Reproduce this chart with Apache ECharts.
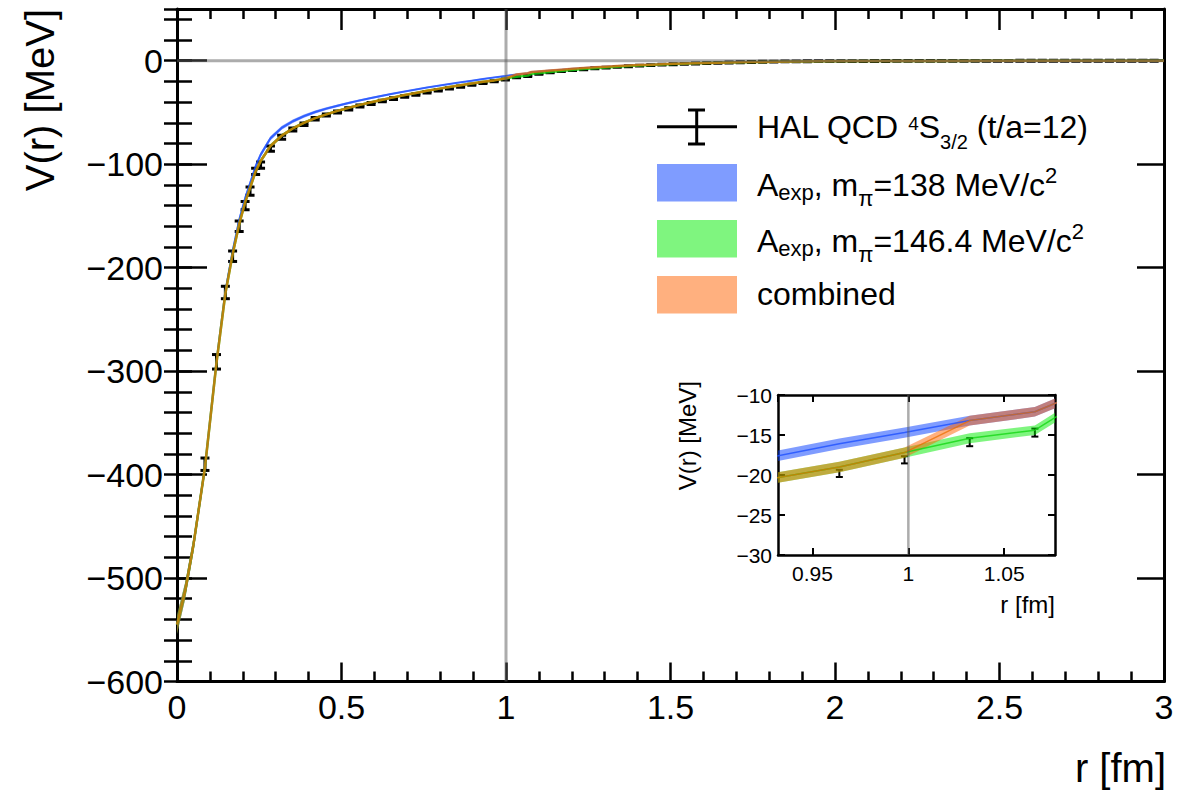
<!DOCTYPE html>
<html>
<head>
<meta charset="utf-8">
<script src="https://cdn.jsdelivr.net/npm/echarts@6/dist/echarts.min.js"></script>
<style>
  html, body { margin: 0; padding: 0; background: #ffffff; }
  #chart { width: 1189px; height: 791px; }
</style>
</head>
<body>
<div id="chart"></div>
<script>
// HAL QCD lattice points: distance r [fm], potential V [MeV], statistical error [MeV]
const dataR = [0.085, 0.120, 0.147, 0.169, 0.189, 0.207, 0.222, 0.239, 0.254, 0.284,
  0.318, 0.352, 0.386, 0.420, 0.454, 0.488, 0.522, 0.556, 0.590, 0.624,
  0.658, 0.692, 0.726, 0.760, 0.794, 0.828, 0.862, 0.896, 0.930, 0.964,
  0.998, 1.032, 1.066, 1.100, 1.134, 1.168, 1.202, 1.236, 1.270, 1.304,
  1.338, 1.372, 1.406, 1.440, 1.474, 1.508, 1.542, 1.576, 1.610, 1.644,
  1.678, 1.712, 1.746, 1.780, 1.814, 1.848, 1.882, 1.916, 1.950, 1.984,
  2.018, 2.052, 2.086, 2.120, 2.154, 2.188, 2.222, 2.256, 2.290, 2.324,
  2.358, 2.392, 2.426, 2.460, 2.494, 2.528, 2.562, 2.596, 2.630, 2.664,
  2.698, 2.732, 2.766, 2.800, 2.834, 2.868, 2.902, 2.936, 2.970];
const dataV = [-390, -291, -224, -189, -160, -140, -126, -107, -101, -85,
  -74, -66.5, -61.5, -56, -52.5, -49.5, -46.5, -43.8, -41.3, -38.9,
  -36.7, -34.6, -32.6, -30.5, -28.6, -26.8, -25.0, -23.2, -21.5, -19.8,
  -18.1, -15.9, -14.7, -12.6, -11.2, -10.1, -9.1, -8.2, -7.3, -6.6,
  -5.9, -5.3, -4.7, -4.2, -3.8, -3.4, -3.0, -2.7, -2.3, -2.0,
  -1.7, -1.5, -1.2, -1.0, -0.8, -0.7, -0.6, -0.5, -0.45, -0.4,
  -0.35, -0.3, -0.3, -0.25, -0.25, -0.2, -0.2, -0.2, -0.15, -0.15,
  -0.15, -0.1, -0.1, -0.1, -0.1, -0.1, -0.05, -0.05, -0.05, -0.05,
  -0.05, -0.05, 0, 0, 0, 0, 0, 0, 0];
const dataErr = [6, 7, 6, 5, 5, 4, 4, 3, 3, 2.5,
  2, 1.5, 1.2, 1.2, 1, 1, 1, 0.9, 0.9, 0.8,
  0.8, 0.7, 0.7, 0.7, 0.6, 0.6, 0.6, 0.5, 0.5, 0.45,
  0.45, 0.5, 0.5, 0.4, 0.4, 0.4, 0.4, 0.4, 0.4, 0.4,
  0.4, 0.4, 0.4, 0.4, 0.4, 0.4, 0.4, 0.4, 0.4, 0.4,
  0.4, 0.4, 0.4, 0.4, 0.4, 0.4, 0.4, 0.4, 0.4, 0.4,
  0.4, 0.4, 0.4, 0.4, 0.4, 0.4, 0.4, 0.4, 0.4, 0.4,
  0.4, 0.4, 0.4, 0.4, 0.4, 0.4, 0.4, 0.4, 0.4, 0.4,
  0.4, 0.4, 0.4, 0.4, 0.4, 0.4, 0.4, 0.4, 0.4];

// Fitted potentials: sample radii, band centres and common half-width [MeV]
const bandR = [0.000, 0.025, 0.050, 0.085, 0.120, 0.147, 0.169, 0.189, 0.207, 0.239,
  0.254, 0.284, 0.318, 0.352, 0.386, 0.420, 0.454, 0.488, 0.522, 0.556,
  0.590, 0.624, 0.658, 0.692, 0.726, 0.760, 0.794, 0.828, 0.862, 0.896,
  0.930, 0.964, 0.998, 1.032, 1.066, 1.078, 1.100, 1.134, 1.168, 1.202,
  1.236, 1.270, 1.304, 1.338, 1.372, 1.406, 1.440, 1.474, 1.508, 1.542,
  1.576, 1.610, 1.678, 1.746, 1.814, 1.882, 1.950, 2.100, 2.300, 2.500,
  2.700, 3.000];
// A_exp with m_pi = 138 MeV/c^2
const blueMid = [-545, -512, -468, -393, -291, -223, -184, -154, -133, -102,
  -91, -75, -65, -58.5, -53.5, -49.5, -46.3, -43.5, -40.8, -38.3,
  -36.0, -33.8, -31.7, -29.7, -27.8, -25.9, -24.2, -22.5, -20.9, -19.3,
  -17.7, -16.1, -14.7, -13.2, -12.1, -10.9, -10.3, -9.4, -8.6, -7.8,
  -7.1, -6.4, -5.8, -5.2, -4.7, -4.2, -3.8, -3.4, -3.0, -2.7,
  -2.4, -2.1, -1.7, -1.3, -1.0, -0.8, -0.6, -0.35, -0.15, -0.07,
  -0.03, -0.01];
// A_exp with m_pi = 146.4 MeV/c^2
const greenMid = [-545, -512, -468, -393, -292, -225, -187, -158, -137, -107,
  -97, -82.5, -72.5, -65.5, -60, -55.5, -51.8, -48.5, -45.5, -42.7,
  -40.1, -37.7, -35.4, -33.2, -31.1, -29.1, -27.2, -25.4, -23.7, -22.0,
  -20.4, -19.0, -17.2, -15.4, -14.4, -12.6, -12.0, -11.0, -10.0, -9.0,
  -8.1, -7.3, -6.5, -5.8, -5.2, -4.6, -4.1, -3.6, -3.2, -2.8,
  -2.5, -2.2, -1.7, -1.3, -1.0, -0.8, -0.6, -0.35, -0.15, -0.07,
  -0.03, -0.01];
// combined
const orangeMid = [-545, -512, -468, -393, -292, -225, -187, -158, -137, -107,
  -97, -82.5, -72.5, -65.5, -60, -55.5, -51.8, -48.5, -45.5, -42.7,
  -40.1, -37.7, -35.4, -33.2, -31.1, -29.1, -27.2, -25.4, -23.7, -22.0,
  -20.4, -19.0, -17.2, -13.2, -12.1, -10.9, -10.3, -9.4, -8.6, -7.8,
  -7.1, -6.4, -5.8, -5.2, -4.7, -4.2, -3.8, -3.4, -3.0, -2.7,
  -2.4, -2.1, -1.7, -1.3, -1.0, -0.8, -0.6, -0.35, -0.15, -0.07,
  -0.03, -0.01];
const bandHalf = [9, 8, 7, 6, 5, 4.5, 4, 3.5, 3, 2.5,
  2.3, 2, 1.8, 1.6, 1.5, 1.4, 1.3, 1.2, 1.1, 1.0,
  0.95, 0.9, 0.85, 0.8, 0.78, 0.75, 0.72, 0.7, 0.7, 0.68,
  0.66, 0.65, 0.65, 0.62, 0.6, 0.6, 0.58, 0.55, 0.52, 0.5,
  0.48, 0.46, 0.44, 0.42, 0.4, 0.38, 0.36, 0.34, 0.32, 0.3,
  0.3, 0.28, 0.26, 0.24, 0.22, 0.2, 0.2, 0.2, 0.2, 0.2,
  0.2, 0.2];

// Axis tick labels
const mainXTicks = [0, 0.5, 1, 1.5, 2, 2.5, 3];
const mainYTicks = [-600, -500, -400, -300, -200, -100, 0];
const insetYTicks = [-30, -25, -20, -15, -10];

const FONT = '"Liberation Sans", Arial, Helvetica, sans-serif';
const BLUE_FILL = 'rgba(0,57,255,0.5)';
const GREEN_FILL = 'rgba(0,235,0,0.5)';
const ORANGE_FILL = 'rgba(255,97,0,0.5)';
const BLUE_LINE = 'rgba(30,80,255,0.8)';
const GREEN_LINE = 'rgba(20,215,20,0.8)';
const ORANGE_LINE = 'rgba(235,110,0,0.75)';
const GREY = 'rgba(90,90,90,0.5)';

function minusLabel(v) {
  return v < 0 ? '\u2212' + String(-v) : String(v);
}

// Filled uncertainty band drawn as one polygon in axis coordinates
function bandSeries(mid, fill, xi, yi) {
  return {
    type: 'custom', xAxisIndex: xi, yAxisIndex: yi, clip: true, silent: true,
    data: [[1, -15]],
    renderItem: function (params, api) {
      const upper = [], lower = [];
      for (let i = 0; i < bandR.length; i++) {
        upper.push(api.coord([bandR[i], mid[i] + bandHalf[i]]));
        lower.push(api.coord([bandR[i], mid[i] - bandHalf[i]]));
      }
      return {
        type: 'polygon',
        shape: { points: upper.concat(lower.reverse()) },
        style: { fill: fill }
      };
    }
  };
}

function centreLine(mid, color, width, xi, yi) {
  return {
    type: 'line', xAxisIndex: xi, yAxisIndex: yi, silent: true,
    showSymbol: false, symbol: 'none', clip: true,
    data: bandR.map(function (r, i) { return [r, mid[i]]; }),
    lineStyle: { color: color, width: width },
    animation: false
  };
}

// Points with vertical error bars and end caps
function pointSeries(xi, yi, capHalf, lw) {
  return {
    type: 'custom', xAxisIndex: xi, yAxisIndex: yi, clip: true, silent: true,
    data: dataR.map(function (r, i) { return [r, dataV[i], dataErr[i]]; }),
    renderItem: function (params, api) {
      const r = api.value(0), v = api.value(1), e = api.value(2);
      const hi = api.coord([r, v + e]);
      const lo = api.coord([r, v - e]);
      return {
        type: 'group',
        children: [
          { type: 'line', shape: { x1: hi[0], y1: hi[1], x2: lo[0], y2: lo[1] }, style: { stroke: '#000', lineWidth: lw } },
          { type: 'line', shape: { x1: hi[0] - capHalf, y1: hi[1], x2: hi[0] + capHalf, y2: hi[1] }, style: { stroke: '#000', lineWidth: lw } },
          { type: 'line', shape: { x1: lo[0] - capHalf, y1: lo[1], x2: lo[0] + capHalf, y2: lo[1] }, style: { stroke: '#000', lineWidth: lw } }
        ]
      };
    }
  };
}

function refLine(points, width, xi, yi) {
  return {
    type: 'line', xAxisIndex: xi, yAxisIndex: yi, silent: true,
    showSymbol: false, symbol: 'none', data: points,
    lineStyle: { color: GREY, width: width }, animation: false
  };
}

const chart = echarts.init(document.getElementById('chart'), null, { renderer: 'svg', width: 1189, height: 791 });

const frameLine = { show: true, onZero: false, lineStyle: { color: '#000', width: 3 } };
const insetFrame = { show: true, onZero: false, lineStyle: { color: '#000', width: 2.5 } };

const option = {
  backgroundColor: '#ffffff',
  animation: false,
  grid: [
    { left: 177, right: 25, top: 9, bottom: 109.5 },
    { left: 778, top: 395, width: 277, height: 160, show: true, backgroundColor: '#ffffff', borderWidth: 0 }
  ],
  xAxis: [
    {
      gridIndex: 0, type: 'value', position: 'bottom', min: 0, max: 3, interval: 0.5,
      axisLine: frameLine,
      axisTick: { show: true, inside: true, length: 19, lineStyle: { color: '#000', width: 2.5 } },
      minorTick: { show: true, splitNumber: 5, length: 10, lineStyle: { color: '#000', width: 2.5 } },
      splitLine: { show: false },
      axisLabel: {
        color: '#000', fontSize: 34, fontFamily: FONT, margin: 8,
        formatter: function (v) { return mainXTicks.indexOf(v) >= 0 ? String(v) : ''; }
      }
    },
    {
      gridIndex: 0, type: 'value', position: 'top', min: 0, max: 3, interval: 0.5,
      axisLine: frameLine,
      axisTick: { show: true, inside: true, length: 21, lineStyle: { color: '#000', width: 2.5 } },
      minorTick: { show: true, splitNumber: 5, length: 10, lineStyle: { color: '#000', width: 2.5 } },
      splitLine: { show: false }, axisLabel: { show: false }
    },
    {
      gridIndex: 1, type: 'value', position: 'bottom', min: 0.932, max: 1.0765,
      splitNumber: 3, minInterval: 0.05, maxInterval: 0.05,
      axisLine: insetFrame,
      axisTick: { show: true, inside: true, length: 7, lineStyle: { color: '#000', width: 2 } },
      splitLine: { show: false },
      axisLabel: { color: '#000', fontSize: 21, fontFamily: FONT, margin: 8, showMinLabel: false, showMaxLabel: false }
    },
    {
      gridIndex: 1, type: 'value', position: 'top', min: 0.932, max: 1.0765,
      splitNumber: 3, minInterval: 0.05, maxInterval: 0.05,
      axisLine: insetFrame,
      axisTick: { show: true, inside: true, length: 7, lineStyle: { color: '#000', width: 2 } },
      splitLine: { show: false }, axisLabel: { show: false }
    }
  ],
  yAxis: [
    {
      gridIndex: 0, type: 'value', position: 'left', min: -600, max: 50, interval: 100,
      axisLine: frameLine,
      axisTick: { show: true, inside: true, length: 30, lineStyle: { color: '#000', width: 2.5 } },
      splitLine: { show: false },
      axisLabel: {
        color: '#000', fontSize: 34, fontFamily: FONT, margin: 14, showMaxLabel: false,
        formatter: function (v) { return mainYTicks.indexOf(v) >= 0 ? minusLabel(v) : ''; }
      }
    },
    {
      gridIndex: 0, type: 'value', position: 'left', min: -600, max: 50, interval: 20,
      axisLine: { show: false },
      axisTick: { show: true, inside: true, length: 15, lineStyle: { color: '#000', width: 2.5 } },
      splitLine: { show: false }, axisLabel: { show: false }
    },
    {
      gridIndex: 0, type: 'value', position: 'right', min: -600, max: 50, interval: 100,
      axisLine: frameLine,
      axisTick: { show: true, inside: true, length: 27, lineStyle: { color: '#000', width: 2.5 } },
      splitLine: { show: false }, axisLabel: { show: false }
    },
    {
      gridIndex: 0, type: 'value', position: 'right', min: -600, max: 50, interval: 20,
      axisLine: { show: false },
      axisTick: { show: true, inside: true, length: 13, lineStyle: { color: '#000', width: 2.5 } },
      splitLine: { show: false }, axisLabel: { show: false }
    },
    {
      gridIndex: 1, type: 'value', position: 'left', min: -30, max: -10, interval: 5,
      axisLine: insetFrame,
      axisTick: { show: true, inside: true, length: 7, lineStyle: { color: '#000', width: 2 } },
      splitLine: { show: false },
      axisLabel: {
        color: '#000', fontSize: 21, fontFamily: FONT, margin: 6,
        formatter: function (v) { return insetYTicks.indexOf(v) >= 0 ? minusLabel(v) : ''; }
      }
    },
    {
      gridIndex: 1, type: 'value', position: 'right', min: -30, max: -10, interval: 5,
      axisLine: insetFrame,
      axisTick: { show: true, inside: true, length: 7, lineStyle: { color: '#000', width: 2 } },
      splitLine: { show: false }, axisLabel: { show: false }
    }
  ],
  series: [
    // main panel: bands, then points, then reference lines
    bandSeries(blueMid, BLUE_FILL, 0, 0),
    centreLine(blueMid, BLUE_LINE, 2, 0, 0),
    bandSeries(greenMid, GREEN_FILL, 0, 0),
    centreLine(greenMid, GREEN_LINE, 2.5, 0, 0),
    bandSeries(orangeMid, ORANGE_FILL, 0, 0),
    centreLine(orangeMid, ORANGE_LINE, 2.5, 0, 0),
    pointSeries(0, 0, 4.5, 3),
    refLine([[0, 0], [3, 0]], 3, 0, 0),
    refLine([[1, -600], [1, 50]], 3, 0, 0),
    // zoomed panel around r = 1 fm
    pointSeries(2, 4, 3.5, 2),
    bandSeries(blueMid, BLUE_FILL, 2, 4),
    centreLine(blueMid, BLUE_LINE, 1.5, 2, 4),
    bandSeries(greenMid, GREEN_FILL, 2, 4),
    centreLine(greenMid, GREEN_LINE, 1.5, 2, 4),
    bandSeries(orangeMid, ORANGE_FILL, 2, 4),
    centreLine(orangeMid, ORANGE_LINE, 1.5, 2, 4),
    refLine([[1, -30], [1, -10]], 2.5, 2, 4)
  ],
  graphic: [
    // axis titles
    { type: 'text', x: 40, y: 9, rotation: Math.PI / 2, silent: true,
      style: { text: 'V(r) [MeV]', font: '40px ' + FONT, fill: '#000', align: 'right', verticalAlign: 'middle' } },
    { type: 'text', x: 1166, y: 768, silent: true,
      style: { text: 'r [fm]', font: '40px ' + FONT, fill: '#000', align: 'right', verticalAlign: 'middle' } },
    { type: 'text', x: 687, y: 381, rotation: Math.PI / 2, silent: true,
      style: { text: 'V(r) [MeV]', font: '24px ' + FONT, fill: '#000', align: 'right', verticalAlign: 'middle' } },
    { type: 'text', x: 1055, y: 604, silent: true,
      style: { text: 'r [fm]', font: '24px ' + FONT, fill: '#000', align: 'right', verticalAlign: 'middle' } },

    // legend: data marker
    { type: 'line', silent: true, shape: { x1: 657, y1: 126.7, x2: 737, y2: 126.7 }, style: { stroke: '#000', lineWidth: 3 } },
    { type: 'line', silent: true, shape: { x1: 696.7, y1: 110, x2: 696.7, y2: 144 }, style: { stroke: '#000', lineWidth: 3 } },
    { type: 'line', silent: true, shape: { x1: 688, y1: 110, x2: 705, y2: 110 }, style: { stroke: '#000', lineWidth: 3 } },
    { type: 'line', silent: true, shape: { x1: 688, y1: 144, x2: 705, y2: 144 }, style: { stroke: '#000', lineWidth: 3 } },
    // legend: band swatches
    { type: 'rect', silent: true, shape: { x: 657, y: 164, width: 80, height: 37.5 }, style: { fill: BLUE_FILL } },
    { type: 'rect', silent: true, shape: { x: 657, y: 220, width: 80, height: 37.5 }, style: { fill: GREEN_FILL } },
    { type: 'rect', silent: true, shape: { x: 657, y: 276, width: 80, height: 37.5 }, style: { fill: ORANGE_FILL } },
    // legend: labels
    { type: 'text', x: 757, y: 127, silent: true,
      style: {
        text: '{n|HAL QCD }{sup4|4}{n|S}{sub32|3/2}{n| (t/a=12)}',
        verticalAlign: 'middle', align: 'left', fill: '#000',
        rich: {
          n: { fontSize: 32, lineHeight: 64, fontFamily: FONT, fill: '#000' },
          sup4: { fontSize: 19, lineHeight: 19, fontFamily: FONT, fill: '#000', padding: [0, 0, 8, 0] },
          sub32: { fontSize: 20, lineHeight: 20, fontFamily: FONT, fill: '#000', padding: [30, 0, 0, 0] }
        }
      } },
    { type: 'text', x: 757, y: 185, silent: true,
      style: {
        text: '{n|A}{sub|exp}{n|, m}{pi|\u03c0}{n|=138 MeV/c}{sup|2}',
        verticalAlign: 'middle', align: 'left', fill: '#000',
        rich: {
          n: { fontSize: 32, lineHeight: 64, fontFamily: FONT, fill: '#000' },
          sub: { fontSize: 22, lineHeight: 22, fontFamily: FONT, fill: '#000', padding: [15, 0, 0, 0] },
          pi: { fontSize: 22, lineHeight: 22, fontFamily: FONT, fill: '#000', padding: [26, 0, 0, 0] },
          sup: { fontSize: 22, lineHeight: 22, fontFamily: FONT, fill: '#000', padding: [0, 0, 19, 0] }
        }
      } },
    { type: 'text', x: 757, y: 241, silent: true,
      style: {
        text: '{n|A}{sub|exp}{n|, m}{pi|\u03c0}{n|=146.4 MeV/c}{sup|2}',
        verticalAlign: 'middle', align: 'left', fill: '#000',
        rich: {
          n: { fontSize: 32, lineHeight: 64, fontFamily: FONT, fill: '#000' },
          sub: { fontSize: 22, lineHeight: 22, fontFamily: FONT, fill: '#000', padding: [15, 0, 0, 0] },
          pi: { fontSize: 22, lineHeight: 22, fontFamily: FONT, fill: '#000', padding: [26, 0, 0, 0] },
          sup: { fontSize: 22, lineHeight: 22, fontFamily: FONT, fill: '#000', padding: [0, 0, 19, 0] }
        }
      } },
    { type: 'text', x: 757, y: 294, silent: true,
      style: { text: 'combined', font: '32px ' + FONT, fill: '#000', align: 'left', verticalAlign: 'middle' } }
  ]
};

chart.setOption(option);
</script>
</body>
</html>
